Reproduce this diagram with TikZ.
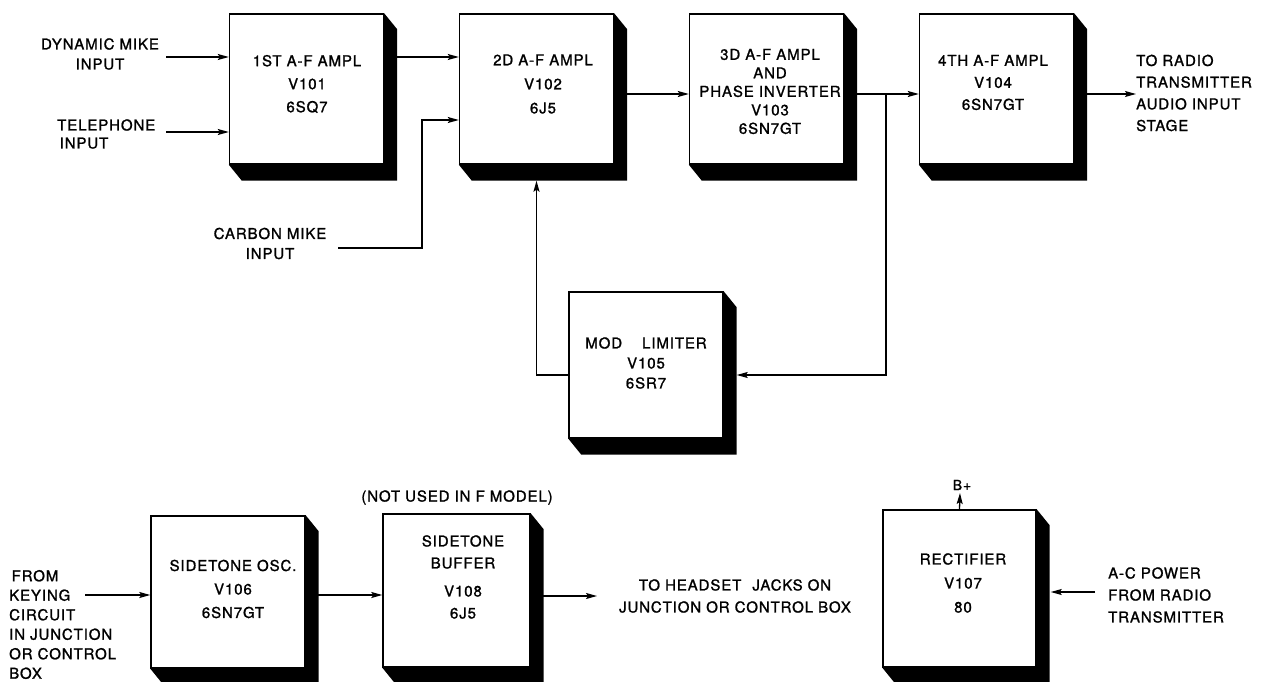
\documentclass[tikz,border=0pt]{standalone}
\usepackage{fontspec}
\setmainfont{TeX Gyre Heros}[LetterSpace=6, RawFeature={embolden=1.3}]
\usetikzlibrary{arrows.meta}
\begin{document}
\begin{tikzpicture}[x=1pt, y=-1pt, node distance=230pt,
    block/.style = {draw, fill=white, line width=1.4pt, minimum width=154pt, minimum height=150pt, inner sep=0pt},
    txt/.style = {align=center, font=\fontsize{15}{23}\selectfont, inner sep=0pt},
    note/.style = {align=left, anchor=west, font=\fontsize{15}{20.5}\selectfont, inner sep=0pt},
    wire/.style = {line width=1.3pt, -{Stealth[length=11pt, width=6pt, inset=2pt]}}]
\useasboundingbox (0,0) rectangle (1274,682);
% audio chain
\node[block] (amp1) at (306.5,89) {};
\node[block] (amp2) [right of=amp1] {};
\node[block] (amp3) [right of=amp2] {};
\node[block] (amp4) [right of=amp3] {};
\node[block, minimum height=146pt] (lim) at (646,365) {};
% sidetone and power
\node[block, minimum height=152pt] (osc) at (228,592) {};
\node[block, minimum width=147pt, minimum height=153pt] (buf) at (456.5,590.5) {};
\node[block, minimum width=153pt, minimum height=157pt] (rect) at (959.5,588.5) {};
% shadows
\foreach \b in {amp1,amp2,amp3,amp4,lim,osc,buf,rect}
  \fill (\b.north east) -- ++(13,16) -- ([shift={(13,16)}]\b.south east)
        -- ([shift={(13,16)}]\b.south west) -- (\b.south west) -- (\b.south east) -- cycle;
% box texts
\node[txt] (t1) at (307,84) {1ST A-F AMPL\\V101\\6SQ7};
\node[txt, font=\fontsize{15}{24}\selectfont] (t2) at (543,84) {2D A-F AMPL\\V102\\6J5};
\node[txt, font=\fontsize{15}{18.5}\selectfont] (t3) at (770,91.5) {3D A-F AMPL\\AND\\PHASE INVERTER\\V103\\6SN7GT};
\node[txt, font=\fontsize{15}{22}\selectfont] (t4) at (993,82.5) {4TH A-F AMPL\\V104\\6SN7GT};
\node[txt, font=\fontsize{15}{20}\selectfont] (t5) at (646,363) {MOD\hspace{20pt}LIMITER\\V105\\6SR7};
\node[txt, font=\fontsize{15}{23.5}\selectfont] (t6) at (233,589) {SIDETONE OSC.\\V106\\6SN7GT};
\node[txt, font=\fontsize{15}{22}\selectfont] (t8) at (463,577) {SIDETONE\\BUFFER\\[6pt]V108\\6J5};
\node[txt, font=\fontsize{15}{24}\selectfont] (t7) at (963,583) {RECTIFIER\\V107\\80};
% outside labels
\node[txt, font=\fontsize{15}{20}\selectfont] (dyn) at (100,54) {DYNAMIC MIKE\\INPUT};
\node[note, font=\fontsize{15}{18}\selectfont] (tel) at (57,134) {TELEPHONE\\\,INPUT};
\node[txt, font=\fontsize{15}{20}\selectfont] (carb) at (270,243.5) {CARBON MIKE\\INPUT};
\node[note, font=\fontsize{15}{21.7}\selectfont] (radio) at (1136,93) {TO RADIO\\TRANSMITTER\\AUDIO INPUT\\STAGE};
\node[txt] (notused) at (457,497.5) {(NOT USED IN F MODEL)};
\node[note, font=\fontsize{15}{19.5}\selectfont] (keying) at (9,624.5) {\,FROM\\KEYING\\CIRCUIT\\IN JUNCTION\\OR CONTROL\\BOX};
\node[txt, font=\fontsize{15}{22}\selectfont] (head) at (735,596) {TO HEADSET\hspace{6pt} JACKS ON\\JUNCTION OR CONTROL BOX};
\node[txt, font=\fontsize{14}{15}\selectfont] (bplustxt) at (962,485) {B+};
\node[note, font=\fontsize{15}{22}\selectfont] (acpow) at (1108,595) {A-C POWER\\FROM RADIO\\TRANSMITTER};
% connector ends
\coordinate (dynin) at (166,57);
\coordinate (telin) at (166,132);
\coordinate (carbin) at (338,248);
\coordinate (carbbend) at (422,120);
\coordinate (tap) at (886,94);
\coordinate (toradio) at (1136,94);
\coordinate (keyin) at (85,595);
\coordinate (tohead) at (597,596);
\coordinate (bplus) at (960,493);
\coordinate (acin) at (1095,592);
% connectors
\draw[wire] (dynin) -- (dynin -| amp1.west);
\draw[wire] (telin) -- (telin -| amp1.west);
\draw[wire] (amp1.east |- dynin) -- (amp2.west |- dynin);
\draw[wire] (carbin) -| (carbbend) -- (carbbend -| amp2.west);
\draw[wire] (amp2.east |- tap) -- (amp3.west |- tap);
\draw[wire] (amp3.east |- tap) -- (amp4.west |- tap);
\draw[wire] (amp4.east |- tap) -- (toradio);
\draw[wire] (tap) |- ([xshift=13pt, yshift=-10pt]lim.east);
\draw[wire] ([yshift=-10pt]lim.west) -| ([yshift=-16pt]amp2.south);
\draw[wire] (keyin) -- (keyin -| osc.west);
\draw[wire] (osc.east |- keyin) -- (buf.west |- keyin);
\draw[wire] (buf.east |- tohead) -- (tohead);
\draw[wire] (rect.north) -- (bplus);
\draw[wire] (acin) -- ([xshift=14pt]rect.east |- acin);
\end{tikzpicture}
\end{document}
